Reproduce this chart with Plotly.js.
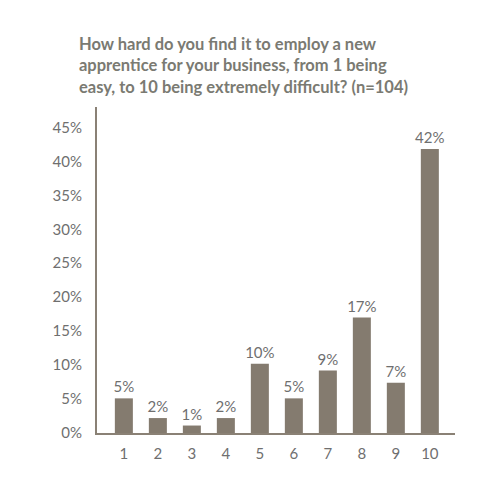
<!DOCTYPE html>
<html>
<head>
<meta charset="utf-8">
<script src="https://cdn.plot.ly/plotly-3.0.1.min.js"></script>
<style>html,body{margin:0;padding:0;background:#fff;}#chart{width:500px;height:500px;}</style>
</head>
<body>
<div id="chart"></div>
<script>
const categories = [1, 2, 3, 4, 5, 6, 7, 8, 9, 10];
const values = [5.1, 2.2, 1.1, 2.2, 10.2, 5.1, 9.2, 17.0, 7.4, 41.8];
const labels = ["5%", "2%", "1%", "2%", "10%", "5%", "9%", "17%", "7%", "42%"];
const yTickVals = [0, 5, 10, 15, 20, 25, 30, 35, 40, 45];
const yTickText = ["0%", "5%", "10%", "15%", "20%", "25%", "30%", "35%", "40%", "45%"];
const titleText = "How hard do you find it to employ a new<br>apprentice for your business, from 1 being<br>easy, to 10 being extremely difficult? (n=104)";

const textColor = "#6f6f6f";
const barColor = "#847b6f";
const fontFam = "Lato, 'Open Sans', sans-serif";

Plotly.newPlot("chart", [{
  type: "bar",
  x: categories,
  y: values,
  text: labels,
  textposition: "outside",
  texttemplate: "%{text}",
  constraintext: "none",
  cliponaxis: false,
  textfont: {family: fontFam, size: 15, color: textColor},
  marker: {color: barColor},
  width: 0.53,
  hoverinfo: "none"
}], {
  width: 500, height: 500,
  margin: {l: 97, r: 45, t: 107, b: 67},
  paper_bgcolor: "#fff", plot_bgcolor: "#fff",
  showlegend: false,
  font: {family: fontFam, color: textColor},
  title: {
    text: titleText,
    font: {family: fontFam, size: 16.5, color: "#7a7a72", weight: "bold"},
    xref: "container", yref: "container",
    x: 0.158, xanchor: "left",
    y: 0.90, yanchor: "top",
    align: "left"
  },
  xaxis: {
    type: "linear",
    range: [0.21, 10.74],
    tickvals: categories,
    ticktext: categories.map(String),
    showgrid: false, zeroline: false,
    showline: true, linecolor: "#8a8175", linewidth: 2,
    ticks: "", ticklabelstandoff: 6,
    tickfont: {family: fontFam, size: 15, color: textColor},
    fixedrange: true
  },
  yaxis: {
    range: [0, 48],
    tickvals: yTickVals,
    ticktext: yTickText,
    showgrid: false, zeroline: false,
    showline: true, linecolor: "#8a8175", linewidth: 2,
    ticks: "", ticklabelstandoff: 10,
    tickfont: {family: fontFam, size: 15, color: textColor},
    fixedrange: true
  },
  bargap: 0.47
}, {displayModeBar: false, staticPlot: true});
</script>
</body>
</html>
